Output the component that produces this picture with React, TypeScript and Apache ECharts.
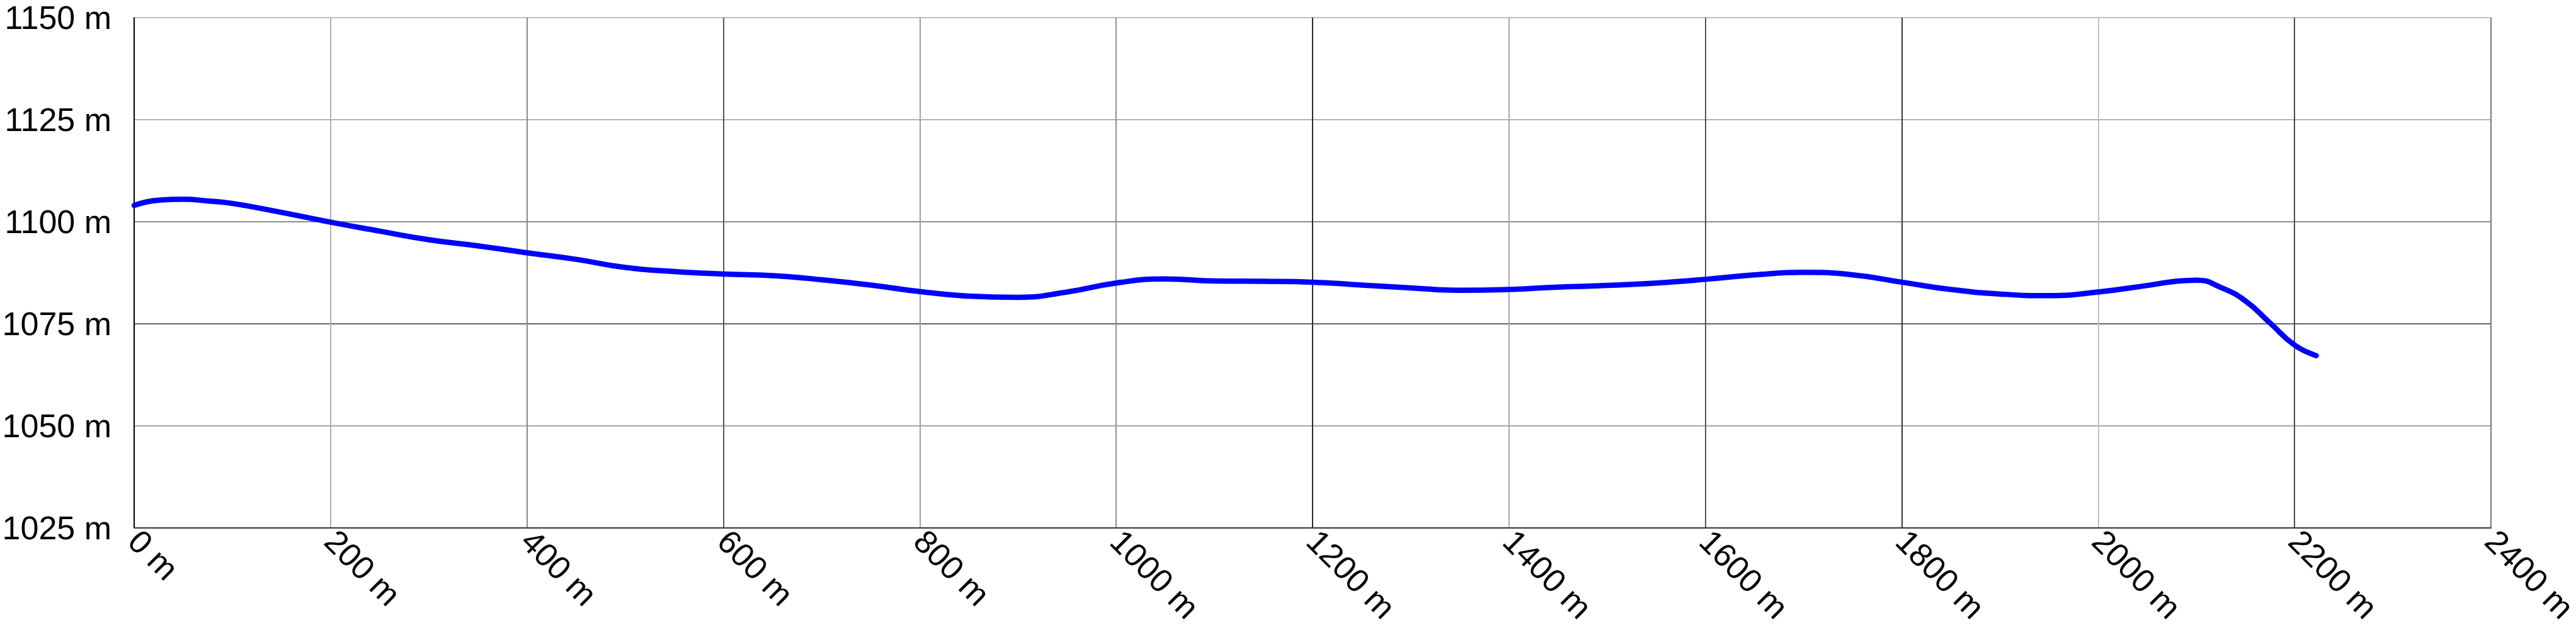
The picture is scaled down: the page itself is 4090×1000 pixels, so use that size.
import React, { useEffect, useRef } from "react";
import * as echarts from "echarts";

const distances = [0, 25, 50, 75, 100, 150, 200, 250, 300, 350, 400, 450, 500, 550, 600, 650, 700, 750, 800, 850, 900, 950, 1000, 1050, 1100, 1150, 1200, 1250, 1300, 1350, 1400, 1450, 1500, 1550, 1600, 1650, 1700, 1750, 1800, 1850, 1900, 1950, 2000, 2050, 2075, 2100, 2125, 2150, 2175, 2200, 2222];
const elevations = [1104.0, 1105.3, 1105.5, 1105.1, 1104.5, 1102.3, 1099.9, 1097.7, 1095.6, 1094.1, 1092.4, 1090.8, 1088.8, 1087.8, 1087.2, 1086.8, 1085.8, 1084.5, 1082.9, 1081.8, 1081.5, 1082.8, 1085.0, 1086.0, 1085.5, 1085.4, 1085.2, 1084.5, 1083.8, 1083.2, 1083.4, 1084.0, 1084.4, 1085.0, 1085.9, 1087.0, 1087.6, 1087.0, 1085.2, 1083.4, 1082.3, 1081.9, 1082.8, 1084.4, 1085.3, 1085.7, 1083.9, 1080.6, 1075.2, 1069.8, 1067.2];

const xMin = 0, xMax = 2400, xStep = 200;
const yMin = 1025, yMax = 1150, yStep = 25;
const unit = " m";

export default function App() {
  const ref = useRef<HTMLDivElement>(null);
  useEffect(() => {
    document.body.style.margin = "0";
    const chart = echarts.init(ref.current!, null, { renderer: "svg" });
    const font = "Liberation Sans, Arial, sans-serif";
    chart.setOption({
      animation: false,
      backgroundColor: "#ffffff",
      grid: { left: 213, top: 28, right: 135, bottom: 162, containLabel: false, outerBoundsMode: "none" },
      xAxis: {
        type: "value",
        min: xMin,
        max: xMax,
        interval: xStep,
        axisLine: { show: true, lineStyle: { color: "#333", width: 2 } },
        axisTick: { show: false },
        splitLine: {
          show: true,
          lineStyle: {
            width: 2,
            color: ["#000", "#b0b0b0", "#888", "#555", "#a0a0a0", "#909090", "#2a2a2a", "#a8a8a8", "#555", "#3a3a3a", "#c0c0c0", "#4a4a4a", "#777"],
          },
        },
        axisLabel: {
          rotate: -45,
          fontSize: 52,
          fontFamily: font,
          color: "#000",
          margin: 12,
          hideOverlap: false,
          formatter: (v: number) => `${v}${unit}`,
        },
      },
      yAxis: {
        type: "value",
        min: yMin,
        max: yMax,
        interval: yStep,
        axisLine: { show: true, lineStyle: { color: "#000", width: 1.5 } },
        axisTick: { show: false },
        splitLine: {
          show: true,
          lineStyle: { width: 1.5, color: ["#333", "#888", "#333", "#666", "#999", "#aaa"] },
        },
        axisLabel: {
          fontSize: 52,
          fontFamily: font,
          color: "#000",
          margin: 36,
          padding: [0, 0, 16, 0],
          hideOverlap: false,
          formatter: (v: number) => `${v}${unit}`,
        },
      },
      series: [
        {
          type: "line",
          data: distances.map((d, i) => [d, elevations[i]]),
          smooth: true,
          showSymbol: false,
          lineStyle: { color: "#0000ff", width: 8.5, cap: "round", join: "round" },
        },
      ],
    });
    return () => chart.dispose();
  }, []);
  return <div ref={ref} style={{ position: "absolute", left: 0, top: 0, width: 4090, height: 1000 }} />;
}
